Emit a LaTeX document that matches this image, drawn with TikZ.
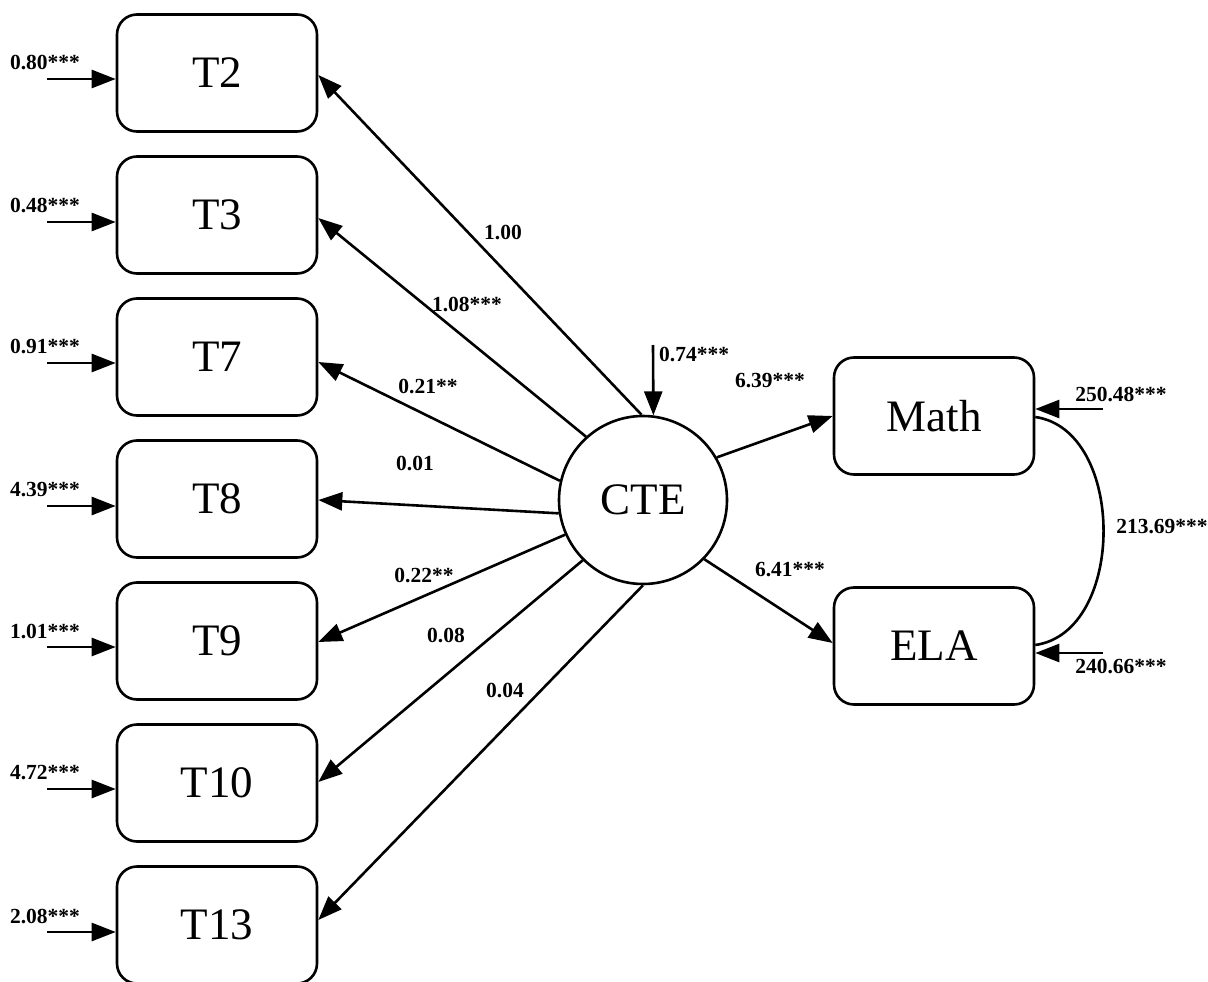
\documentclass[tikz,border=0pt]{standalone}
\usepackage{fontspec}
\setmainfont{Liberation Serif}
\usetikzlibrary{arrows.meta}
\begin{document}
\begin{tikzpicture}[x=1pt,y=-1pt,
  box/.style={draw, line width=2.6pt, rounded corners=20pt, minimum width=200pt, minimum height=117pt, inner sep=0pt, font=\fontsize{45}{50}\selectfont},
  lat/.style={draw, circle, line width=2.6pt, minimum size=168pt, inner sep=0pt, font=\fontsize{45}{50}\selectfont},
  arr/.style={line width=2.6pt, -{Triangle[length=24pt,width=18pt]}},
  lbl/.style={font=\bfseries\fontsize{21.5}{24}\selectfont, inner sep=0pt},
  cov/.style={line width=2.6pt}
]
\useasboundingbox (0,0) rectangle (1208,982);

% observed indicators
\node[box] (T2)  at (217,73)  {T2};
\node[box] (T3)  at (217,215) {T3};
\node[box] (T7)  at (217,357) {T7};
\node[box] (T8)  at (217,499) {T8};
\node[box] (T9)  at (217,641) {T9};
\node[box] (T10) at (217,783) {T10};
\node[box] (T13) at (217,925) {T13};

% latent
\node[lat] (CTE) at (643,500) {CTE};

% outcomes
\node[box] (Math) at (934,416) {Math};
\node[box] (ELA)  at (934,646) {ELA};

% loadings
\draw[arr] (CTE.91)  -- ([yshift=-2pt]T2.east);
\draw[arr] (CTE.132) -- ([yshift=-3pt]T3.east);
\draw[arr] (CTE.167) -- ([yshift=-5pt]T7.east);
\draw[arr] (CTE.189) -- ([yshift=-1pt]T8.east);
\draw[arr] (CTE.204) -- ([yshift=-1pt]T9.east);
\draw[arr] (CTE.225) -- ([yshift=1pt]T10.east);
\draw[arr] (CTE.270) -- ([yshift=5pt]T13.east);

% structural paths
\draw[arr] (CTE.30)  -- (Math.west);
\draw[arr] (CTE.316) -- ([yshift=3pt]ELA.west);

% residuals of indicators
\coordinate (r2)  at (47,79);
\coordinate (r3)  at (47,222);
\coordinate (r7)  at (47,363);
\coordinate (r8)  at (47,506);
\coordinate (r9)  at (47,647);
\coordinate (r10) at (47,789);
\coordinate (r13) at (47,932);
\draw[arr] (r2)  -- (r2 -| T2.west);
\draw[arr] (r3)  -- (r3 -| T3.west);
\draw[arr] (r7)  -- (r7 -| T7.west);
\draw[arr] (r8)  -- (r8 -| T8.west);
\draw[arr] (r9)  -- (r9 -| T9.west);
\draw[arr] (r10) -- (r10 -| T10.west);
\draw[arr] (r13) -- (r13 -| T13.west);

\node[lbl] at (45,63)  {0.80***};
\node[lbl] at (45,206) {0.48***};
\node[lbl] at (45,347) {0.91***};
\node[lbl] at (45,490) {4.39***};
\node[lbl] at (45,631) {1.01***};
\node[lbl] at (45,773) {4.72***};
\node[lbl] at (45,916) {2.08***};

% residual of latent
\coordinate (rc) at (653,345);
\draw[arr] (rc) -- (CTE.83);
\node[lbl, anchor=west] at (659,355) {0.74***};

% residuals of outcomes
\coordinate (rm) at (1103,409);
\coordinate (re) at (1103,653);
\draw[arr] (rm) -- (rm -| Math.east);
\draw[arr] (re) -- (re -| ELA.east);
\node[lbl] at (1121,395) {250.48***};
\node[lbl] at (1121,666) {240.66***};

% covariance
\draw[cov] ([yshift=-1pt]Math.east) .. controls +(91,13) and +(91,-13) .. ([yshift=1pt]ELA.east);
\node[lbl] at (1162,527) {213.69***};

% loading labels
\node[lbl] at (503,233) {1.00};
\node[lbl] at (467,305) {1.08***};
\node[lbl] at (428,386) {0.21**};
\node[lbl] at (415,463) {0.01};
\node[lbl] at (424,575) {0.22**};
\node[lbl] at (446,635) {0.08};
\node[lbl] at (505,690) {0.04};
\node[lbl] at (770,381) {6.39***};
\node[lbl] at (790,570) {6.41***};
\end{tikzpicture}
\end{document}
